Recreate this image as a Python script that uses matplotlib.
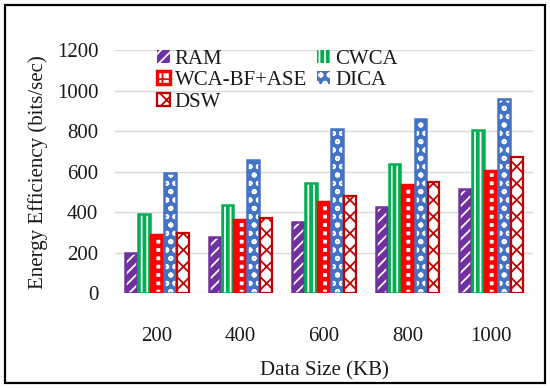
import numpy as np
import matplotlib
matplotlib.use('Agg')
import matplotlib.pyplot as plt
from matplotlib.patches import Rectangle

# 数据
sizes = ['200', '400', '600', '800', '1000']
ram = [200, 280, 350, 425, 515]
cwca = [390, 435, 545, 640, 805]
wca = [288, 360, 450, 535, 605]
dica = [592, 660, 812, 860, 960]
dsw = [298, 372, 482, 550, 672]
labels = ['RAM', 'CWCA', 'WCA-BF+ASE', 'DICA', 'DSW']

plt.rcParams['font.family'] = ['Liberation Serif', 'DejaVu Serif']
plt.rcParams['hatch.linewidth'] = 1.3
txt = '#1a1a1a'

fig = plt.figure(figsize=(5.5, 3.88), dpi=100)
ax = fig.add_axes([0.209, 0.244, 0.76, 0.627])

x = np.arange(len(sizes))
w = 0.14
step = 0.155
series = [ram, cwca, wca, dica, dsw]
colors = ['#7030A0', '#00B050', '#FF0000', '#4472C4', '#C00000']
hatches = ['///', '|||', '++', 'oo', 'xx']

handles = []
for i, (vals, c, h) in enumerate(zip(series, colors, hatches)):
    pos = x + (i - 2) * step
    if labels[i] == 'DSW':
        b = ax.bar(pos, vals, w, facecolor='white', edgecolor=c, hatch=h, linewidth=1.6)
    elif labels[i] == 'WCA-BF+ASE':
        # 白色方块：白底 + 粗红色网格
        with plt.rc_context({'hatch.linewidth': 3.2}):
            b = ax.bar(pos, vals, w, facecolor='white', edgecolor=c, hatch=h, linewidth=2.5)
    else:
        b = ax.bar(pos, vals, w, facecolor=c, edgecolor='white', hatch=h, linewidth=0)
        ax.bar(pos, vals, w, fill=False, edgecolor=c, linewidth=1.8)
    handles.append(b)

ax.set_xlim(-0.5, 4.5)
ax.set_ylim(0, 1200)
ax.set_yticks(range(0, 1201, 200))
ax.set_xticks(x)
ax.set_xticklabels(sizes)
ax.yaxis.grid(True, color='#d9d9d9', linewidth=1)
ax.set_axisbelow(True)
for s in ax.spines.values():
    s.set_visible(False)
ax.tick_params(axis='both', length=0, labelsize=15, colors=txt)
ax.tick_params(axis='x', pad=24)
ax.tick_params(axis='y', pad=12)
ax.set_xlabel('Data Size (KB)', fontsize=15, color=txt, labelpad=11)
ax.set_ylabel('Energy Efficiency (bits/sec)', fontsize=15, color=txt, labelpad=6)

# 按行排列图例: RAM CWCA / WCA DICA / DSW
order = [0, 2, 4, 1, 3]
ax.legend([handles[k] for k in order], [labels[k] for k in order], ncol=2,
          frameon=False, fontsize=15,
          loc='upper left', bbox_to_anchor=(0.066, 1.062),
          handlelength=0.6, handleheight=0.6, handletextpad=0.25,
          labelspacing=0.12, columnspacing=0.5, borderpad=0.2,
          labelcolor=txt)

# 外框
fig.patches.append(Rectangle((0.009, 0.013), 0.982, 0.974, transform=fig.transFigure,
                             fill=False, edgecolor='black', linewidth=1.6))

fig.savefig('out.png', dpi=100)
